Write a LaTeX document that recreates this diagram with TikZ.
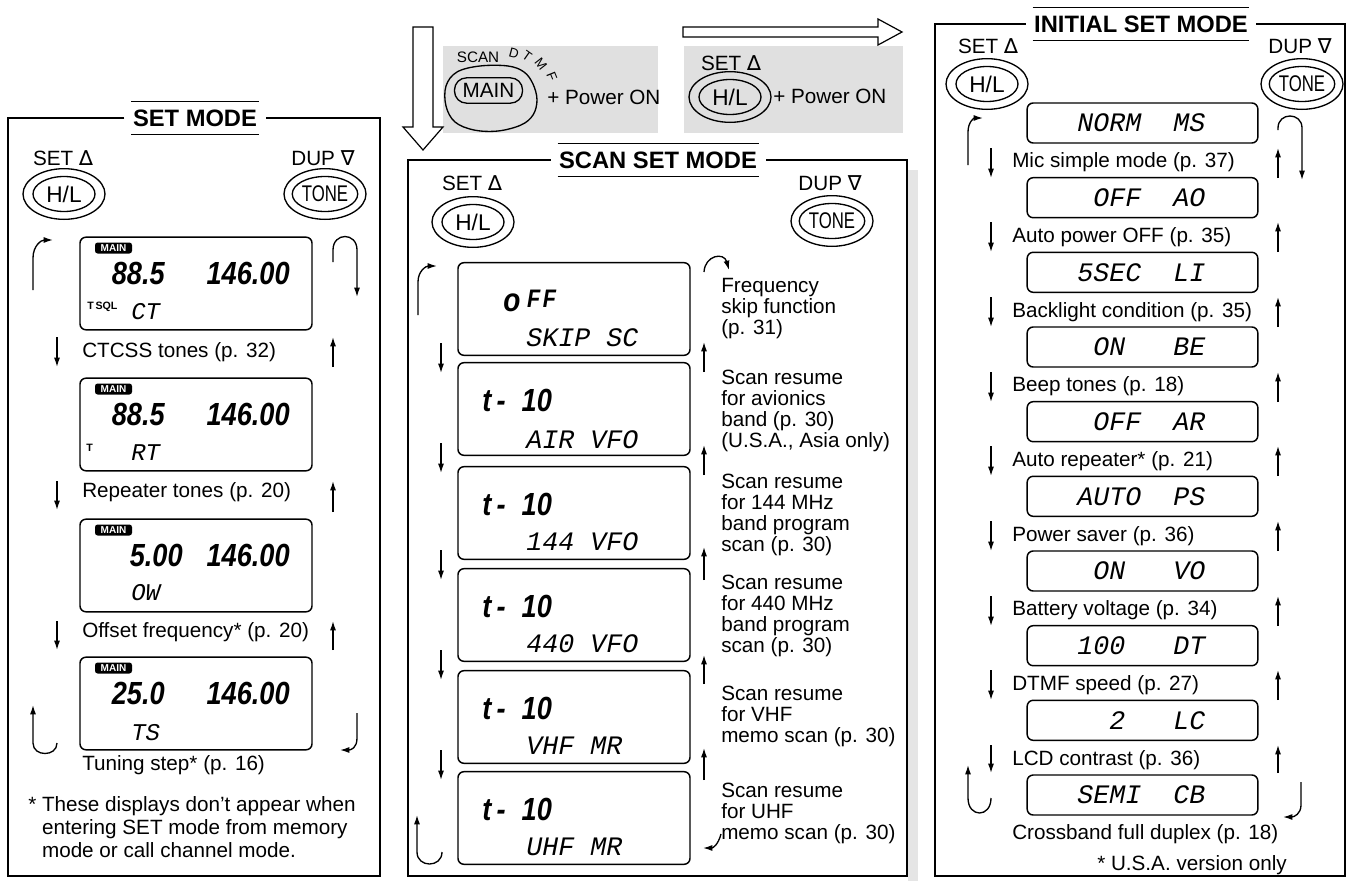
\documentclass[tikz,border=0pt]{standalone}
\usepackage{fontspec}
\setmainfont{Liberation Sans}
\newfontfamily\lcdsym{DejaVu Sans}
\newfontfamily\lcdthin{Liberation Mono}
\newfontfamily\lcdbold{Liberation Sans}[FakeStretch=0.85]
\usetikzlibrary{positioning, arrows.meta, shapes.geometric, calc}

\begin{document}
\begin{tikzpicture}[
    x=0.75pt, y=-0.75pt,
    note/.style={font=\fontsize{15.5}{15.75}\selectfont, inner sep=0pt, anchor=west, align=left},
    modetitle/.style={font=\fontsize{17.8}{20}\selectfont\bfseries, inner xsep=1pt, inner ysep=5.85pt},
    key/.style={ellipse, draw, line width=1pt, inner sep=0pt, minimum width=46.5pt, minimum height=26.25pt, font=\fontsize{17}{17}\selectfont},
    keyring/.style={ellipse, draw, line width=1pt, inner sep=0pt, minimum width=61.5pt, minimum height=38pt},
    lcd/.style={draw, line width=1.1pt, rounded corners=4.5pt, inner sep=0pt, minimum width=174pt, minimum height=69.5pt},
    lcdrow/.style={lcd, minimum width=173pt, minimum height=30pt},
    thin/.style={font=\lcdthin\itshape\fontsize{#1}{#1}\selectfont, inner sep=0pt, anchor=west},
    thin/.default=20,
    digits/.style={font=\lcdbold\bfseries\itshape\fontsize{24}{24}\selectfont, inner sep=0pt},
    badge/.style={fill=black, text=white, rounded corners=2pt, font=\bfseries\fontsize{7.5}{7.5}\selectfont, inner xsep=1pt, inner ysep=0.5pt, minimum width=27.75pt, minimum height=8.25pt},
    tag/.style={font=\bfseries\fontsize{8}{8}\selectfont, inner sep=0pt, anchor=west},
    bent/.style={font=\fontsize{10}{11}\selectfont, inner sep=0pt},
    flow/.style={-{Latex[length=7pt,width=4.5pt]}, line width=1pt},
    rule/.style={line width=0.9pt},
    hollow/.style={draw, line width=0.9pt, fill=white, line join=miter},
]
\useasboundingbox (0,0) rectangle (1348,881);

\fill[black!12] (443,46) rectangle (658,133);
\fill[black!12] (684,46) rectangle (903,133);
\fill[black!10] (908,170) rectangle (918,881);
\draw[hollow] (413,27) -- (433,27) -- (433,127) -- (443,127) -- (423,150) -- (403,127) -- (413,127) -- cycle;
\draw[hollow] (683,27) -- (878,27) -- (878,19) -- (902,32) -- (878,45) -- (878,37) -- (683,37) -- cycle;

\draw[line width=1pt] plot[smooth cycle, tension=0.6] coordinates {(446,86) (457,72) (480,66) (508,66) (524,72) (533,84) (537,100) (533,115) (521,125) (498,131) (474,130) (455,122) (446,106)};
\node[key, rectangle, rounded corners=9pt, minimum width=51pt, minimum height=19pt, font=\fontsize{15.5}{15.5}\selectfont] (mainkey) at (488.5,90.5) {MAIN};
\node[bent, font=\fontsize{11.4}{12}\selectfont] (scanlbl) at (478,57) {SCAN};
\node[bent, rotate=-15] (dtmfd) at (514,53) {D};
\node[bent, rotate=-35] (dtmft) at (527,56) {T};
\node[bent, rotate=-52] (dtmfm) at (541,64) {M};
\node[bent, rotate=-68] (dtmff) at (552,77) {F};
\node[note] (pwr1) at (547,97) {+ Power ON};
\node[note, anchor=center] (set0) at (731,63) {SET {\lcdsym ∆}};
\node[keyring] (hl0o) at (730,97) {};
\node[key] (hl0) at (730,97) {H/L};
\node[note] (pwr2) at (773,96) {+ Power ON};

\node[modetitle] (t1) at (195,118) {SET MODE};
\draw[rule] (t1.north west) -- (t1.north east) (t1.south west) -- (t1.south east);
\draw[rule] ($(t1.west)+(-7,0)$) -- (8,118) -- (8,876) -- (380,876) -- (380,118) -- ($(t1.east)+(7,0)$);
\node[note, anchor=center] (set1) at (63,158) {SET {\lcdsym ∆}};
\node[keyring] (hl1o) at (64,194) {};
\node[key] (hl1) at (64,194) {H/L};
\node[note, anchor=center] (dup1) at (323,158) {DUP {\lcdsym ∇}};
\node[keyring] (tn1o) at (325,194) {};
\node[key] (tn1) at (325,194) {\scalebox{0.74}[1]{TONE}};

\node[lcd] (p1a) at (196,283.5) {};
\node[badge] (p1am) at (113.5,248) {MAIN};
\node[digits, anchor=east] (p1al) at (165,273) {88.5};
\node[digits, anchor=east] (p1ar) at (290,273) {146.00};
\node[tag] (p1at) at (87,307) {T\,SQL};
\node[thin=18] (p1as) at (131,312) {CT};
\node[note] (p1an) at (82,352) {CTCSS tones (p. 32)};

\node[lcd] (p1b) at (196,424.5) {};
\node[badge] (p1bm) at (113.5,389) {MAIN};
\node[digits, anchor=east] (p1bl) at (165,414) {88.5};
\node[digits, anchor=east] (p1br) at (290,414) {146.00};
\node[tag] (p1bt) at (86,448) {T};
\node[thin=18] (p1bs) at (131,453) {RT};
\node[note] (p1bn) at (82,492) {Repeater tones (p. 20)};

\node[lcd] (p1c) at (196,565.5) {};
\node[badge] (p1cm) at (113.5,530) {MAIN};
\node[digits, anchor=east] (p1cl) at (183,555) {5.00};
\node[digits, anchor=east] (p1cr) at (290,555) {146.00};
\node[thin=18] (p1cs) at (131,593) {OW};
\node[note] (p1cn) at (82,632) {Offset frequency* (p. 20)};

\node[lcd] (p1d) at (196,703.5) {};
\node[badge] (p1dm) at (113.5,668) {MAIN};
\node[digits, anchor=east] (p1dl) at (165,693) {25.0};
\node[digits, anchor=east] (p1dr) at (290,693) {146.00};
\node[thin=18] (p1ds) at (131,733) {TS};
\node[note] (p1dn) at (82,765) {Tuning step* (p. 16)};
\node[note, font=\fontsize{15.5}{17.25}\selectfont] (foot1) at (28,827) {* These displays don't appear when\\\hphantom{*\ }entering SET mode from memory\\\hphantom{*\ }mode or call channel mode.};

\draw[flow] (33,290) -- (33,258) .. controls (33,246) and (41,240) .. (53,240);
\draw[flow] (333,262) -- (333,250) .. controls (333,232) and (357,232) .. (357,250) -- (357,297);
\draw[flow] (57,337) -- (57,367); \draw[flow] (57,481) -- (57,510); \draw[flow] (57,621) -- (57,650);
\draw[flow] (333,367) -- (333,337); \draw[flow] (333,512) -- (333,481); \draw[flow] (333,650) -- (333,621);
\draw[flow] (57,743) .. controls (57,757) and (33,757) .. (33,743) -- (33,705);
\draw[flow] (357,713) -- (357,738) .. controls (357,748) and (351,750) .. (340,750);

\node[modetitle] (t2) at (658,160) {SCAN SET MODE};
\draw[rule] (t2.north west) -- (t2.north east) (t2.south west) -- (t2.south east);
\draw[rule] ($(t2.west)+(-7,0)$) -- (408,160) -- (408,876) -- (907,876) -- (907,160) -- ($(t2.east)+(7,0)$);
\node[note, anchor=center] (set2) at (472,183) {SET {\lcdsym ∆}};
\node[keyring] (hl2o) at (473,222) {};
\node[key] (hl2) at (473,222) {H/L};
\node[note, anchor=center] (dup2) at (830,183) {DUP {\lcdsym ∇}};
\node[keyring] (tn2o) at (832,221) {};
\node[key] (tn2) at (832,221) {\scalebox{0.74}[1]{TONE}};

\node[lcd] (p2a) at (574,309) {};
\node[digits, anchor=base west] (p2ad) at (503,311) {\fontsize{19}{19}\selectfont \scalebox{1.3}{o}\hspace{5pt}\raisebox{3pt}{F\hspace{2pt}F}};
\node[thin] (p2as) at (526,338) {SKIP~SC};
\node[lcd] (p2b) at (574,409) {};
\node[digits, anchor=west] (p2bd) at (482,400) {t\,-\hspace{12pt}10};
\node[thin] (p2bs) at (526,440) {AIR~VFO};
\node[lcd] (p2c) at (574,513) {};
\node[digits, anchor=west] (p2cd) at (482,504) {t\,-\hspace{12pt}10};
\node[thin] (p2cs) at (526,542) {144~VFO};
\node[lcd] (p2d) at (574,615) {};
\node[digits, anchor=west] (p2dd) at (482,606) {t\,-\hspace{12pt}10};
\node[thin] (p2ds) at (526,644) {440~VFO};
\node[lcd] (p2e) at (574,717) {};
\node[digits, anchor=west] (p2ed) at (482,708) {t\,-\hspace{12pt}10};
\node[thin] (p2es) at (526,746) {VHF~MR};
\node[lcd] (p2f) at (574,818) {};
\node[digits, anchor=west] (p2fd) at (482,809) {t\,-\hspace{12pt}10};
\node[thin] (p2fs) at (526,847) {UHF~MR};

\node[note] (p2an) at (721,309) {Frequency\\skip function\\(p. 31)};
\node[note] (p2bn) at (721,411) {Scan resume\\for avionics\\band (p. 30)\\(U.S.A., Asia only)};
\node[note] (p2cn) at (721,515) {Scan resume\\for 144 MHz\\band program\\scan (p. 30)};
\node[note] (p2dn) at (721,616) {Scan resume\\for 440 MHz\\band program\\scan (p. 30)};
\node[note] (p2en) at (721,716) {Scan resume\\for VHF\\memo scan (p. 30)};
\node[note] (p2fn) at (721,813) {Scan resume\\for UHF\\memo scan (p. 30)};

\draw[flow] (418,315) -- (418,282) .. controls (418,271) and (426,266) .. (437,266);
\draw[flow] (441,343) -- (441,373); \draw[flow] (441,443) -- (441,473); \draw[flow] (441,550) -- (441,580); \draw[flow] (441,650) -- (441,680); \draw[flow] (441,750) -- (441,780);
\draw[flow] (442,852) .. controls (442,868) and (417,868) .. (417,852) -- (417,815);
\draw[flow] (704,372) -- (704,342); \draw[flow] (704,475) -- (704,445); \draw[flow] (704,580) -- (704,547); \draw[flow] (704,684) -- (704,655); \draw[flow] (704,780) -- (704,748);
\draw[flow] (704,272) .. controls (705,255) and (724,252) .. (729,270);
\draw[flow] (721,834) .. controls (718,845) and (713,848) .. (703,848);

\node[modetitle] (t3) at (1141,24) {INITIAL SET MODE};
\draw[rule] (t3.north west) -- (t3.north east) (t3.south west) -- (t3.south east);
\draw[rule] ($(t3.west)+(-7,0)$) -- (935,24) -- (935,876) -- (1345,876) -- (1345,24) -- ($(t3.east)+(7,0)$);
\node[note, anchor=center] (set3) at (988,46) {SET {\lcdsym ∆}};
\node[keyring] (hl3o) at (987,84) {};
\node[key] (hl3) at (987,84) {H/L};
\node[note, anchor=center] (dup3) at (1300,46) {DUP {\lcdsym ∇}};
\node[keyring] (tn3o) at (1302,84) {};
\node[key] (tn3) at (1302,84) {\scalebox{0.74}[1]{TONE}};

\node[lcdrow] (p3a) at (1142.5,123) {};   \node[thin] (p3as) at (1077,123) {NORM~~MS};
\node[note] (p3an) at (1012,162.5) {Mic simple mode (p. 37)};
\node[lcdrow] (p3b) at (1142.5,197.7) {}; \node[thin] (p3bs) at (1077,197.7) {~OFF~~AO};
\node[note] (p3bn) at (1012,237.2) {Auto power OFF (p. 35)};
\node[lcdrow] (p3c) at (1142.5,272.3) {}; \node[thin] (p3cs) at (1077,272.3) {5SEC~~LI};
\node[note] (p3cn) at (1012,311.8) {Backlight condition (p. 35)};
\node[lcdrow] (p3d) at (1142.5,347) {};   \node[thin] (p3ds) at (1077,347) {~ON~~~BE};
\node[note] (p3dn) at (1012,386.5) {Beep tones (p. 18)};
\node[lcdrow] (p3e) at (1142.5,421.7) {}; \node[thin] (p3es) at (1077,421.7) {~OFF~~AR};
\node[note] (p3en) at (1012,461.2) {Auto repeater* (p. 21)};
\node[lcdrow] (p3f) at (1142.5,496.3) {}; \node[thin] (p3fs) at (1077,496.3) {AUTO~~PS};
\node[note] (p3fn) at (1012,535.8) {Power saver (p. 36)};
\node[lcdrow] (p3g) at (1142.5,571) {};   \node[thin] (p3gs) at (1077,571) {~ON~~~VO};
\node[note] (p3gn) at (1012,610.5) {Battery voltage (p. 34)};
\node[lcdrow] (p3h) at (1142.5,645.7) {}; \node[thin] (p3hs) at (1077,645.7) {100~~~DT};
\node[note] (p3hn) at (1012,685.2) {DTMF speed (p. 27)};
\node[lcdrow] (p3i) at (1142.5,720.3) {}; \node[thin] (p3is) at (1077,720.3) {~~2~~~LC};
\node[note] (p3in) at (1012,759.8) {LCD contrast (p. 36)};
\node[lcdrow] (p3j) at (1142.5,795) {};   \node[thin] (p3js) at (1077,795) {SEMI~~CB};
\node[note] (p3jn) at (1012,834.5) {Crossband full duplex (p. 18)};
\node[note] (foot3) at (1097,865) {* U.S.A. version only};

\draw[flow] (968,165) -- (968,132) .. controls (968,122) and (974,118) .. (983,118);
\draw[flow] (1278,130) -- (1278,128) .. controls (1278,112) and (1302,112) .. (1302,128) -- (1302,180);
\draw[flow] (991,148) -- (991,178); \draw[flow] (991,222) -- (991,252); \draw[flow] (991,297) -- (991,327);
\draw[flow] (991,372) -- (991,402); \draw[flow] (991,446) -- (991,476); \draw[flow] (991,521) -- (991,551);
\draw[flow] (991,596) -- (991,626); \draw[flow] (991,670) -- (991,700); \draw[flow] (991,745) -- (991,773);
\draw[flow] (1278,178) -- (1278,148); \draw[flow] (1278,252) -- (1278,222); \draw[flow] (1278,327) -- (1278,297);
\draw[flow] (1278,402) -- (1278,372); \draw[flow] (1278,476) -- (1278,446); \draw[flow] (1278,551) -- (1278,521);
\draw[flow] (1278,626) -- (1278,596); \draw[flow] (1278,700) -- (1278,670); \draw[flow] (1278,773) -- (1278,745);
\draw[flow] (991,798) .. controls (991,818) and (968,818) .. (968,798) -- (968,765);
\draw[flow] (1301,782) -- (1301,805) .. controls (1301,814) and (1294,817) .. (1283,817);
\end{tikzpicture}
\end{document}
